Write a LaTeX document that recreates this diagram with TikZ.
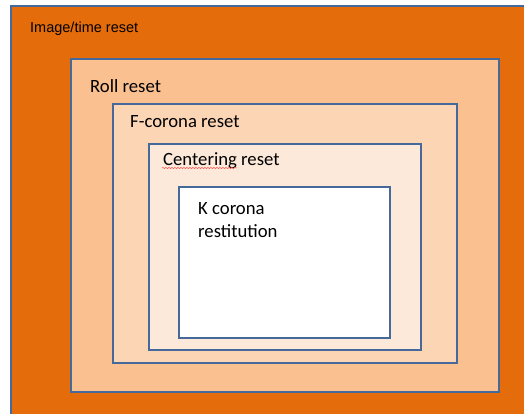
\documentclass[tikz,border=0pt]{standalone}
\usepackage{fontspec}
\setmainfont{Carlito}
\newfontfamily\arialfont{Liberation Sans}
\usetikzlibrary{decorations.pathmorphing}
\definecolor{frameblue}{HTML}{44699A}
\definecolor{orangeA}{HTML}{E46C0A}
\definecolor{orangeB}{HTML}{FAC090}
\definecolor{orangeC}{HTML}{FCD5B5}
\definecolor{orangeD}{HTML}{FDE9D9}
\tikzset{
  box/.style={draw=frameblue, line width=2pt, rectangle, inner sep=0pt, anchor=north west},
  lbl/.style={anchor=base west, inner sep=0pt, font=\fontsize{18.7}{22}\selectfont, text=black},
}
\begin{document}
\begin{tikzpicture}[x=1pt,y=-1pt]
\useasboundingbox (0,0) rectangle (524,414);
\clip (0,0) rectangle (524,414);
\node[box, fill=orangeA, minimum width=540pt, minimum height=430pt] (outer) at (10,5) {};
\node[box, fill=orangeB, minimum width=428pt, minimum height=333pt] (roll) at (70,58) {};
\node[box, fill=orangeC, minimum width=344pt, minimum height=259pt] (fcor) at (112,103) {};
\node[box, fill=orangeD, minimum width=272pt, minimum height=206pt] (cent) at (148,143) {};
\node[box, fill=white, minimum width=211pt, minimum height=151pt] (kcor) at (178,186) {};
\node[anchor=base west, inner sep=0pt, font=\arialfont\fontsize{14.5}{17}\selectfont] (t1) at (30,33) {Image/time reset};
\node[lbl] (t2) at (90,93) {Roll reset};
\node[lbl] (t3) at (130,128) {F-corona reset};
\node[lbl] (t4) at (163,165) {Centering reset};
\node[lbl] (t5) at (198,214) {K corona};
\node[lbl] (t6) at (198,237) {restitution};
\coordinate (sq1) at (162,168);
\coordinate (sq2) at (237,168);
\draw[red!70, line width=0.5pt, decorate, decoration={snake, amplitude=0.6pt, segment length=3pt}] (sq1) -- (sq2);
\end{tikzpicture}
\end{document}
